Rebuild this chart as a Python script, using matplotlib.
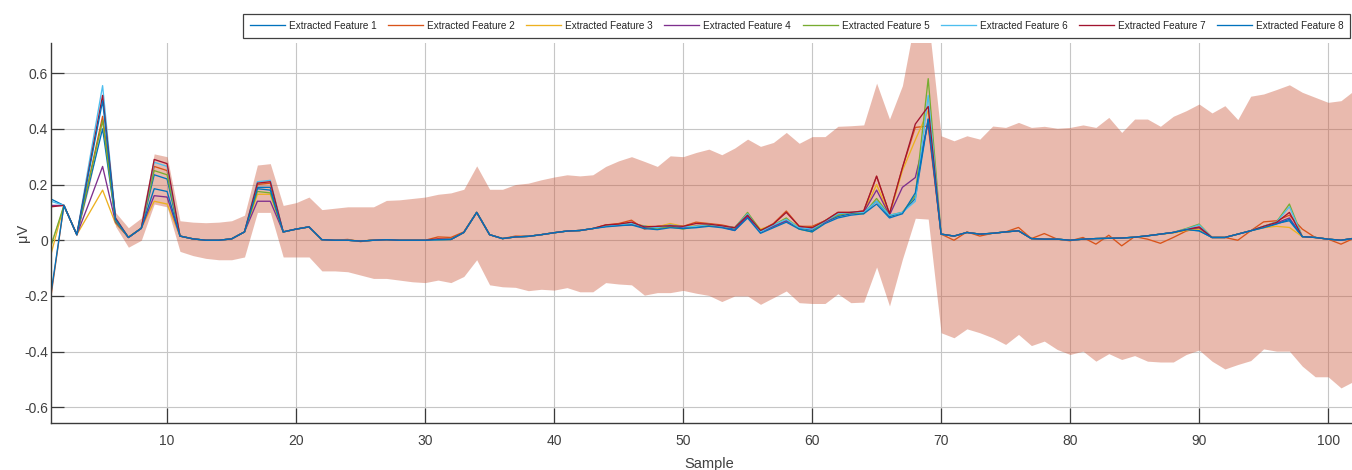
import matplotlib
matplotlib.use('Agg')
import matplotlib.pyplot as plt
from matplotlib import font_manager

names = {f.name for f in font_manager.fontManager.ttflist}
fam = 'Liberation Sans Narrow' if 'Liberation Sans Narrow' in names else 'Liberation Sans'
plt.rcParams['font.family'] = [fam, 'DejaVu Sans']
plt.rcParams['axes.unicode_minus'] = False

samples = list(range(1, 103))

feature_labels = ['Extracted Feature 1', 'Extracted Feature 2', 'Extracted Feature 3',
                  'Extracted Feature 4', 'Extracted Feature 5', 'Extracted Feature 6',
                  'Extracted Feature 7', 'Extracted Feature 8']
feature_colors = ['#0072BD', '#D95319', '#EDB120', '#7E2F8E', '#77AC30', '#4DBEEE',
                  '#A2142F', '#0072BD']

feature1 = [0.148, 0.125, 0.02, 0.21, 0.40, 0.07, 0.01, 0.043, 0.235, 0.22,
            0.015, 0.005, 0.0, 0.0, 0.005, 0.03, 0.19, 0.19, 0.03, 0.04,
            0.048, 0.002, 0.0, 0.0, -0.003, 0.0, 0.002, 0.0, 0.0, 0.0,
            0.002, 0.003, 0.028, 0.1, 0.02, 0.006, 0.012, 0.014, 0.02, 0.027,
            0.033, 0.035, 0.042, 0.05, 0.055, 0.058, 0.045, 0.04, 0.05, 0.045,
            0.048, 0.055, 0.05, 0.04, 0.085, 0.03, 0.05, 0.07, 0.045, 0.035,
            0.065, 0.085, 0.095, 0.1, 0.14, 0.085, 0.1, 0.15, 0.435, 0.022,
            0.015, 0.028, 0.022, 0.025, 0.03, 0.034, 0.006, 0.004, 0.004, 0.0,
            0.004, 0.006, 0.007, 0.008, 0.011, 0.016, 0.022, 0.028, 0.038, 0.034,
            0.01, 0.01, 0.022, 0.034, 0.046, 0.06, 0.07, 0.013, 0.01, 0.004,
            0.0, 0.007]
feature2 = [-0.2, 0.125, 0.02, 0.23, 0.445, 0.075, 0.01, 0.043, 0.265, 0.25,
            0.015, 0.005, 0.0, 0.0, 0.005, 0.03, 0.2, 0.205, 0.03, 0.04,
            0.048, 0.002, 0.0, 0.003, -0.005, 0.002, 0.002, 0.0, 0.0, 0.0,
            0.012, 0.01, 0.03, 0.1, 0.02, 0.006, 0.015, 0.014, 0.02, 0.027,
            0.033, 0.035, 0.042, 0.055, 0.06, 0.072, 0.04, 0.05, 0.055, 0.05,
            0.065, 0.06, 0.055, 0.045, 0.09, 0.035, 0.06, 0.105, 0.05, 0.05,
            0.07, 0.1, 0.1, 0.105, 0.23, 0.095, 0.26, 0.405, 0.41, 0.022,
            0.0, 0.03, 0.015, 0.025, 0.03, 0.046, 0.006, 0.024, 0.004, -0.002,
            0.01, -0.014, 0.018, -0.02, 0.013, 0.004, -0.011, 0.01, 0.033, 0.045,
            0.01, 0.01, 0.0, 0.034, 0.066, 0.07, 0.09, 0.04, 0.01, 0.004,
            -0.014, 0.007]
feature3 = [-0.05, 0.125, 0.02, 0.10, 0.18, 0.06, 0.012, 0.043, 0.14, 0.13,
            0.015, 0.005, 0.0, 0.0, 0.005, 0.03, 0.165, 0.165, 0.03, 0.04,
            0.048, 0.002, 0.0, 0.0, -0.002, 0.0, 0.002, 0.0, 0.0, 0.0,
            0.002, 0.003, 0.028, 0.1, 0.02, 0.006, 0.012, 0.014, 0.02, 0.027,
            0.033, 0.035, 0.042, 0.052, 0.057, 0.06, 0.052, 0.048, 0.06, 0.05,
            0.052, 0.058, 0.05, 0.045, 0.095, 0.04, 0.055, 0.075, 0.05, 0.045,
            0.07, 0.095, 0.1, 0.1, 0.2, 0.09, 0.25, 0.36, 0.465, 0.022,
            0.015, 0.028, 0.022, 0.025, 0.03, 0.034, 0.006, 0.004, 0.004, 0.0,
            0.004, 0.006, 0.007, 0.008, 0.011, 0.016, 0.022, 0.026, 0.035, 0.04,
            0.01, 0.01, 0.022, 0.034, 0.045, 0.05, 0.046, 0.013, 0.01, 0.004,
            0.0, 0.007]
feature4 = [0.125, 0.125, 0.02, 0.14, 0.265, 0.065, 0.01, 0.043, 0.16, 0.155,
            0.015, 0.005, 0.0, 0.0, 0.005, 0.03, 0.14, 0.14, 0.03, 0.04,
            0.048, 0.002, 0.0, 0.0, -0.003, 0.0, 0.002, 0.0, 0.0, 0.0,
            0.002, 0.003, 0.028, 0.1, 0.02, 0.006, 0.012, 0.014, 0.02, 0.027,
            0.033, 0.035, 0.042, 0.05, 0.053, 0.055, 0.05, 0.045, 0.05, 0.045,
            0.05, 0.053, 0.048, 0.035, 0.085, 0.03, 0.05, 0.07, 0.045, 0.04,
            0.065, 0.09, 0.1, 0.1, 0.18, 0.09, 0.19, 0.225, 0.42, 0.022,
            0.015, 0.028, 0.022, 0.025, 0.03, 0.034, 0.006, 0.004, 0.004, 0.0,
            0.004, 0.006, 0.007, 0.008, 0.011, 0.016, 0.022, 0.028, 0.04, 0.045,
            0.01, 0.01, 0.022, 0.034, 0.048, 0.062, 0.08, 0.013, 0.01, 0.004,
            0.0, 0.007]
feature5 = [-0.02, 0.125, 0.02, 0.225, 0.43, 0.07, 0.01, 0.043, 0.25, 0.235,
            0.015, 0.005, 0.0, 0.0, 0.005, 0.03, 0.175, 0.17, 0.03, 0.04,
            0.048, 0.002, 0.0, 0.0, -0.003, 0.0, 0.002, 0.0, 0.0, 0.0,
            0.002, 0.003, 0.028, 0.1, 0.02, 0.006, 0.012, 0.014, 0.02, 0.027,
            0.033, 0.035, 0.042, 0.052, 0.055, 0.06, 0.05, 0.042, 0.048, 0.04,
            0.05, 0.055, 0.05, 0.045, 0.1, 0.035, 0.055, 0.08, 0.04, 0.03,
            0.07, 0.09, 0.1, 0.095, 0.15, 0.09, 0.1, 0.16, 0.58, 0.022,
            0.015, 0.028, 0.022, 0.025, 0.03, 0.034, 0.006, 0.004, 0.004, 0.0,
            0.004, 0.006, 0.007, 0.008, 0.011, 0.016, 0.022, 0.028, 0.042, 0.058,
            0.01, 0.01, 0.022, 0.034, 0.05, 0.066, 0.13, 0.013, 0.01, 0.004,
            0.0, 0.007]
feature6 = [0.14, 0.125, 0.02, 0.29, 0.555, 0.08, 0.01, 0.043, 0.28, 0.265,
            0.015, 0.005, 0.0, 0.0, 0.005, 0.03, 0.21, 0.215, 0.03, 0.04,
            0.048, 0.002, 0.0, 0.0, -0.003, 0.0, 0.002, 0.0, 0.0, 0.0,
            0.002, 0.003, 0.028, 0.1, 0.02, 0.006, 0.012, 0.014, 0.02, 0.027,
            0.033, 0.035, 0.042, 0.05, 0.055, 0.06, 0.05, 0.045, 0.055, 0.048,
            0.05, 0.057, 0.05, 0.045, 0.095, 0.03, 0.055, 0.075, 0.045, 0.04,
            0.068, 0.095, 0.1, 0.1, 0.14, 0.09, 0.1, 0.14, 0.52, 0.022,
            0.015, 0.028, 0.022, 0.025, 0.03, 0.034, 0.006, 0.004, 0.004, 0.0,
            0.004, 0.006, 0.007, 0.008, 0.011, 0.016, 0.022, 0.028, 0.04, 0.055,
            0.01, 0.01, 0.022, 0.034, 0.05, 0.065, 0.12, 0.013, 0.01, 0.004,
            0.0, 0.007]
feature7 = [0.12, 0.125, 0.02, 0.27, 0.52, 0.08, 0.01, 0.043, 0.29, 0.275,
            0.015, 0.005, 0.0, 0.0, 0.005, 0.03, 0.205, 0.21, 0.03, 0.04,
            0.048, 0.002, 0.0, 0.0, -0.003, 0.0, 0.002, 0.0, 0.0, 0.0,
            0.005, 0.003, 0.028, 0.1, 0.02, 0.006, 0.012, 0.014, 0.02, 0.027,
            0.033, 0.035, 0.042, 0.055, 0.058, 0.065, 0.048, 0.05, 0.052, 0.05,
            0.06, 0.058, 0.052, 0.045, 0.09, 0.035, 0.058, 0.1, 0.05, 0.045,
            0.07, 0.1, 0.1, 0.105, 0.23, 0.095, 0.26, 0.417, 0.48, 0.022,
            0.015, 0.028, 0.022, 0.025, 0.03, 0.034, 0.006, 0.004, 0.004, 0.0,
            0.004, 0.006, 0.007, 0.008, 0.011, 0.016, 0.022, 0.028, 0.038, 0.048,
            0.01, 0.01, 0.022, 0.034, 0.05, 0.064, 0.1, 0.013, 0.01, 0.004,
            0.0, 0.007]
feature8 = [-0.19, 0.125, 0.02, 0.26, 0.50, 0.075, 0.01, 0.043, 0.185, 0.175,
            0.015, 0.005, 0.0, 0.0, 0.005, 0.03, 0.185, 0.18, 0.03, 0.04,
            0.048, 0.002, 0.0, 0.0, -0.003, 0.0, 0.002, 0.0, 0.0, 0.0,
            0.002, 0.003, 0.028, 0.1, 0.02, 0.006, 0.012, 0.014, 0.02, 0.027,
            0.033, 0.035, 0.042, 0.048, 0.052, 0.055, 0.042, 0.038, 0.045, 0.042,
            0.045, 0.05, 0.045, 0.035, 0.08, 0.025, 0.045, 0.065, 0.04, 0.03,
            0.06, 0.08, 0.09, 0.095, 0.13, 0.08, 0.095, 0.17, 0.435, 0.022,
            0.015, 0.028, 0.022, 0.025, 0.03, 0.034, 0.006, 0.004, 0.004, 0.0,
            0.004, 0.006, 0.007, 0.008, 0.011, 0.016, 0.022, 0.028, 0.038, 0.034,
            0.01, 0.01, 0.022, 0.034, 0.045, 0.058, 0.075, 0.013, 0.01, 0.004,
            0.0, 0.007]

band_upper = [0.0, 0.13, 0.025, 0.22, 0.44, 0.10, 0.045, 0.08, 0.31, 0.30,
              0.07, 0.065, 0.063, 0.065, 0.07, 0.09, 0.27, 0.275, 0.125, 0.135,
              0.155, 0.11, 0.115, 0.12, 0.12, 0.12, 0.143, 0.145, 0.15, 0.155,
              0.165, 0.17, 0.183, 0.267, 0.183, 0.183, 0.2, 0.205, 0.217, 0.227,
              0.235, 0.231, 0.235, 0.265, 0.285, 0.3, 0.283, 0.265, 0.303, 0.3,
              0.315, 0.327, 0.307, 0.331, 0.363, 0.337, 0.351, 0.387, 0.348, 0.372,
              0.372, 0.409, 0.411, 0.414, 0.564, 0.435, 0.555, 0.80, 0.80, 0.375,
              0.357, 0.375, 0.363, 0.41, 0.405, 0.423, 0.405, 0.409, 0.402, 0.405,
              0.414, 0.405, 0.441, 0.387, 0.435, 0.435, 0.409, 0.445, 0.465, 0.489,
              0.457, 0.483, 0.433, 0.517, 0.525, 0.541, 0.558, 0.531, 0.513, 0.495,
              0.501, 0.537]
band_lower = [-0.01, 0.12, 0.015, 0.2, 0.42, 0.05, -0.025, 0.0, 0.13, 0.12,
              -0.04, -0.055, -0.065, -0.07, -0.07, -0.06, 0.10, 0.10, -0.06, -0.06,
              -0.06, -0.11, -0.11, -0.113, -0.125, -0.137, -0.137, -0.143, -0.149, -0.152,
              -0.143, -0.152, -0.13, -0.07, -0.16, -0.167, -0.169, -0.181, -0.176, -0.179,
              -0.17, -0.185, -0.185, -0.152, -0.157, -0.16, -0.197, -0.188, -0.188, -0.18,
              -0.19, -0.198, -0.22, -0.2, -0.2, -0.23, -0.206, -0.182, -0.224, -0.227,
              -0.227, -0.192, -0.224, -0.222, -0.096, -0.236, -0.068, 0.079, 0.076, -0.332,
              -0.35, -0.318, -0.332, -0.35, -0.374, -0.338, -0.378, -0.362, -0.392, -0.41,
              -0.398, -0.434, -0.407, -0.428, -0.414, -0.434, -0.437, -0.437, -0.41, -0.394,
              -0.434, -0.462, -0.446, -0.432, -0.39, -0.398, -0.398, -0.452, -0.49, -0.49,
              -0.53, -0.506]

xtick_values = [10, 20, 30, 40, 50, 60, 70, 80, 90, 100]
ytick_values = [-0.6, -0.4, -0.2, 0.0, 0.2, 0.4, 0.6]
ytick_labels = ['-0.6', '-0.4', '-0.2', '0', '0.2', '0.4', '0.6']

features = [feature1, feature2, feature3, feature4, feature5, feature6, feature7, feature8]

fig = plt.figure(figsize=(13.52, 4.70), dpi=100)
ax = fig.add_axes([51 / 1352, (470 - 423.3) / 470, 1315.8 / 1352, (423.3 - 43) / 470])

ax.fill_between(samples, band_lower, band_upper, color=(0.80, 0.36, 0.25), alpha=0.42,
                linewidth=0, zorder=1)
handles = []
for vals, col, lab in zip(features, feature_colors, feature_labels):
    h, = ax.plot(samples, vals, color=col, lw=0.95, label=lab, zorder=2)
    handles.append(h)

ax.set_xlim(1, 103)
ax.set_ylim(-0.657, 0.708)
ax.set_xticks(xtick_values)
ax.set_xticklabels([str(v) for v in xtick_values])
ax.set_yticks(ytick_values)
ax.set_yticklabels(ytick_labels)
ax.set_axisbelow(True)
ax.grid(True, color='#c6c6c6', lw=0.8)
for s in ['top', 'right']:
    ax.spines[s].set_visible(False)
for s in ['left', 'bottom']:
    ax.spines[s].set_color('#3a3a3a')
    ax.spines[s].set_linewidth(1.0)
ax.tick_params(axis='both', direction='in', colors='#3a3a3a', labelcolor='#404040',
               width=0.9, labelsize=10)
ax.tick_params(axis='y', length=9, pad=2)
ax.tick_params(axis='x', length=11, pad=8)
ax.set_xlabel('Sample', fontsize=10.5, color='#404040', labelpad=6)
ax.set_ylabel('μV', fontsize=10.5, color='#404040', labelpad=-4)

leg = fig.legend(handles, feature_labels, loc='upper left',
                 bbox_to_anchor=(243 / 1352, 1 - 14.3 / 470), ncol=8, fontsize=7.2,
                 frameon=True, fancybox=False, edgecolor='#404040', framealpha=1,
                 handlelength=3.5, handletextpad=0.4, columnspacing=1.15,
                 borderpad=0.66, borderaxespad=0)
leg.get_frame().set_linewidth(0.9)
for t in leg.get_texts():
    t.set_color('#262626')

fig.savefig('out.png', dpi=100)
